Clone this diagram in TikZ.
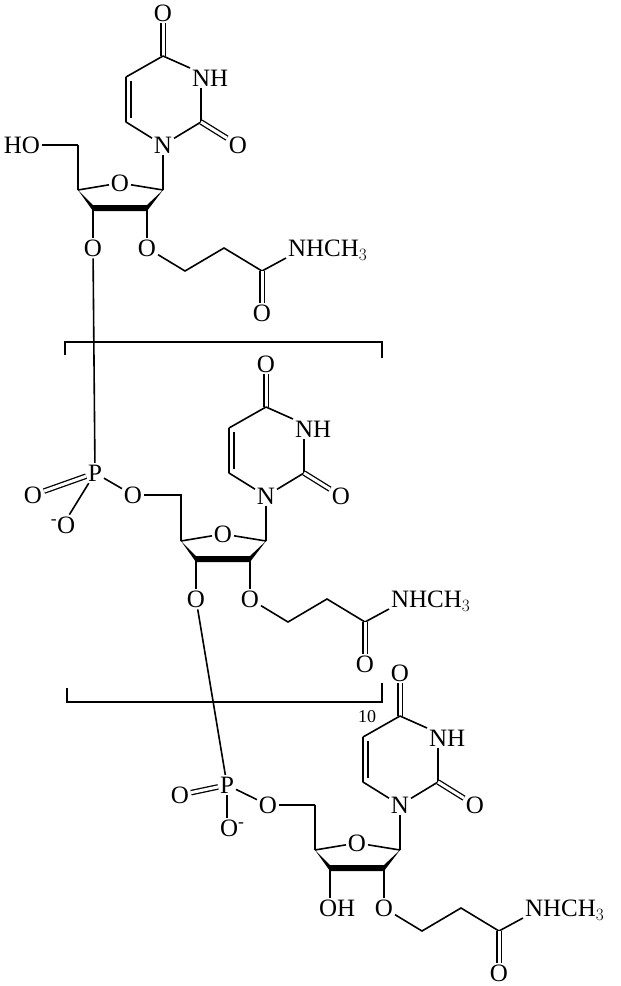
\documentclass[tikz,border=0pt]{standalone}
\usepackage{fontspec}
\setmainfont{Liberation Serif}
\usetikzlibrary{calc}
\begin{document}
\begin{tikzpicture}[x=1pt,y=-1pt,line width=1.6pt,
  atom/.style={inner sep=1.2pt,font=\fontsize{25}{25}\selectfont},
  dbl/.style={double,double distance=3pt,line width=1.3pt}]
\useasboundingbox (0,0) rectangle (621,986);
\newcommand{\nuclbase}{%
  \coordinate (C4) at (163,56);
  \coordinate (C5) at (126,77);
  \coordinate (C6) at (126,122);
  \coordinate (C2) at (201,122);
  \node[atom] (O4) at (163,13) {O};
  \node[atom,anchor=west] (N3) at (190,78) {NH};
  \node[atom] (N1) at (163,145) {N};
  \node[atom] (O2) at (238,145) {O};
  \draw[dbl] (C4) -- (O4);
  \draw (C4) -- (N3.west |- 0,68) (C2) -- (C2 |- N3.south) (C2) -- (N1) (N1) -- (C6) (C6) -- (C5) (C5) -- (C4);
  \draw ($(C6)+(5,-4)$) -- ($(C5)+(5,4)$);
  \draw[dbl] (C2) -- (O2);
  \coordinate (C1p) at (163,190);
  \coordinate (C4p) at (78,190);
  \coordinate (C3p) at (93,208);
  \coordinate (C2p) at (147,208);
  \coordinate (C5p) at (78,145);
  \node[atom] (O4p) at (120,183) {O};
  \draw (N1) -- (C1p) (C1p) -- (O4p) (O4p) -- (C4p) (C4p) -- (C5p);
  \fill (C4p) -- ($(C3p)+(0,-3)$) -- ($(C2p)+(0,-3)$) -- (C1p) -- ($(C2p)+(0,3)$) -- ($(C3p)+(0,3)$) -- cycle;
  \node[atom] (O2p) at (147,248) {O};
  \draw (C2p) -- (O2p.north -| C2p);
  \coordinate (Ca) at (185,271);
  \coordinate (Cb) at (224,248);
  \coordinate (Cc) at (262,271);
  \node[atom,anchor=west] (Nam) at (286,250) {NHCH$_3$};
  \node[atom] (Oam) at (262,313) {O};
  \draw (O2p) -- (Ca) -- (Cb) -- (Cc) -- (Nam.west |- 258,258);
  \draw[dbl] (Cc) -- (Oam);
}
% unit 1
\begin{scope}[name prefix=u1-]
\nuclbase
\node[atom] (O3p) at (93,248) {O};
\draw (C3p) -- (O3p.north -| C3p);
\node[atom] (HO) at (22,145) {HO};
\draw (HO) -- (C5p);
\end{scope}
% unit 2
\begin{scope}[name prefix=u2-,shift={(103,351)}]
\nuclbase
\node[atom] (O3p) at (93,248) {O};
\draw (C3p) -- (O3p.north -| C3p);
\node[atom] (P) at (-8,122) {P};
\node[atom] (Od) at (-70,144) {O};
\node[atom] (Om) at (-40,174) {\textsuperscript{-}O};
\node[atom] (O5p) at (30,144) {O};
\draw (P) -- (O5p) (O5p) -| (C5p);
\draw[dbl] (P) -- (Od);
\draw (P) -- (Om);
\end{scope}
% unit 3
\begin{scope}[name prefix=u3-,shift={(237,660)}]
\nuclbase
\node[atom,anchor=west] (O3p) at (80,248) {OH};
\draw (C3p) -- (O3p.north -| C3p);
\node[atom] (P) at (-10,125) {P};
\node[atom] (Od) at (-57,135) {O};
\node[atom,anchor=north west] (Om) at (-19,158) {O\textsuperscript{-}};
\node[atom] (O5p) at (31,145) {O};
\draw (P) -- (O5p) (O5p) -| (C5p);
\draw[dbl] (P) -- (Od);
\draw (P.south) -- (P.south |- Om.north);
\end{scope}
% backbone links
\draw (u1-O3p) -- (u2-P);
\draw (u2-O3p) -- (u3-P);
% brackets
\draw (65,355) -- (65,342) -- (382,342) -- (382,358);
\draw (67,688) -- (67,702) -- (382,702) -- (382,683);
\node[inner sep=0pt,font=\fontsize{18}{18}\selectfont] (n10) at (367,717) {10};
\end{tikzpicture}
\end{document}
